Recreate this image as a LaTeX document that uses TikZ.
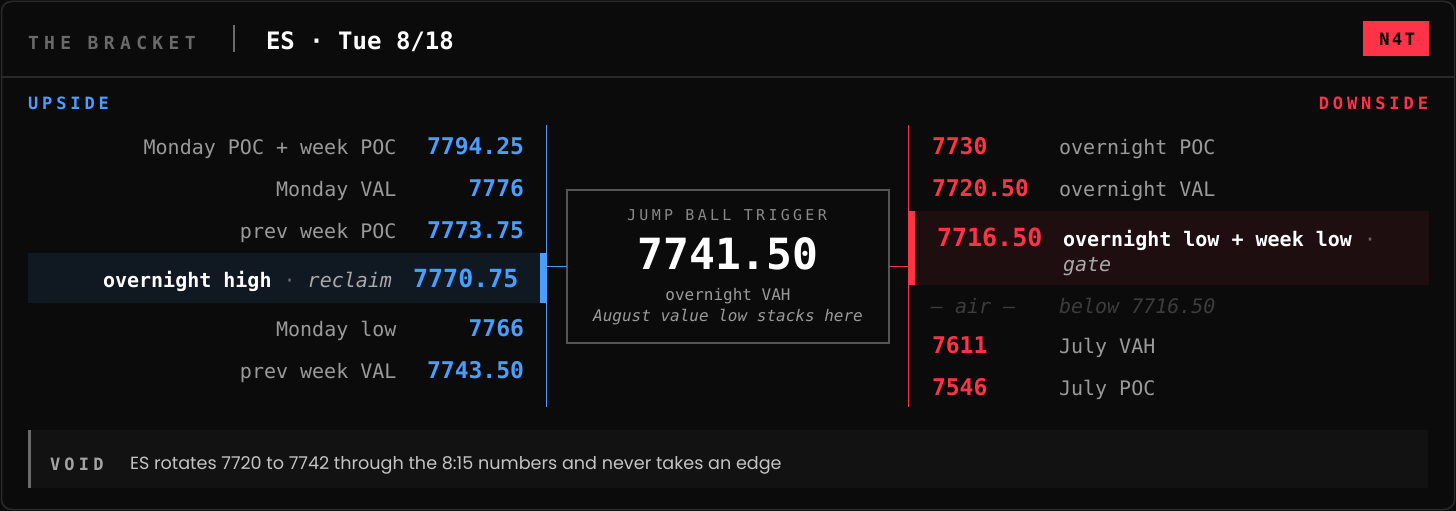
\documentclass[tikz,border=0pt]{standalone}
\usepackage{fontspec}
\setmainfont{DejaVu Sans Mono}
\newfontfamily\pop{Poppins}
\newfontfamily\trkA[LetterSpace=30]{DejaVu Sans Mono}
\newfontfamily\trkB[LetterSpace=23]{DejaVu Sans Mono}
\newfontfamily\trkC[LetterSpace=22]{DejaVu Sans Mono}
\newfontfamily\trkD[LetterSpace=15]{DejaVu Sans Mono}
\newfontfamily\trkE[LetterSpace=25]{DejaVu Sans Mono}
\definecolor{bgc}{HTML}{0B0B0B}
\definecolor{edgec}{HTML}{2A2A2A}
\definecolor{upc}{HTML}{4A9EFF}
\definecolor{dnc}{HTML}{FF3347}
\definecolor{lblc}{HTML}{9A9A9A}
\definecolor{dimc}{HTML}{6A6A6A}
\definecolor{midc}{HTML}{888888}
\definecolor{airc}{HTML}{3C3C3C}
\definecolor{uphl}{HTML}{101822}
\definecolor{dnhl}{HTML}{1F0E10}
\definecolor{boxc}{HTML}{555555}
\definecolor{footc}{HTML}{121212}
\definecolor{foottxt}{HTML}{C4C4C4}
\newcommand{\fs}[1]{\fontsize{#1}{#1}\selectfont}
\tikzset{
  lbl/.style={text=lblc, font=\fs{20}},
  upval/.style={text=upc, font=\fs{23}\bfseries},
  dnval/.style={text=dnc, font=\fs{23}\bfseries},
  upline/.style={draw=upc, line width=1.6pt},
  dnline/.style={draw=dnc, line width=1.6pt},
}
\begin{document}
\begin{tikzpicture}[x=1pt,y=-1pt, every node/.style={inner sep=0pt, outer sep=0pt}]
\useasboundingbox (0,0) rectangle (1456,511);
\fill[bgc] (0,0) rectangle (1456,511);
\draw[edgec, line width=1.5pt, rounded corners=10pt] (1.5,1.5) rectangle (1454.5,509.5);
% header
\coordinate (hl) at (1.5,77);
\coordinate (hr) at (1454.5,77);
\draw[edgec, line width=1.5pt] (hl) -- (hr);
\node[anchor=base west, text=dimc, font=\trkA\fs{18}\bfseries] (brk) at (28,49.3) {THE BRACKET};
\coordinate (sept) at (234,25);
\coordinate (sepb) at (234,52);
\draw[dimc, line width=2pt] (sept) -- (sepb);
\node[anchor=base west, text=white, font=\fs{24}\bfseries] (ttl) at (266,49.3) {ES · Tue 8/18};
\node[fill=dnc, minimum width=66pt, minimum height=35pt] (badge) at (1396,38.5) {};
\node[anchor=base, text=black, font=\trkD\fs{17}\bfseries] (badget) at ([xshift=1.3pt]badge.center |- 0,45.5) {N4T};
\node[anchor=base west, text=upc, font=\trkB\fs{17}\bfseries] (ups) at (28,109.3) {UPSIDE};
\node[anchor=base east, text=dnc, font=\trkB\fs{17}\bfseries] (dns) at (1428,109.3) {DOWNSIDE};
% highlights
\fill[uphl] (27.5,253) rectangle (540,303);
\fill[upc] (540,253) rectangle (547.3,303);
\fill[dnhl] (908,211) rectangle (1428.5,285);
\fill[dnc] (908,211) rectangle (915,285);
% lines
\coordinate (uptop) at (546.5,125);
\coordinate (upbot) at (546.5,407);
\coordinate (dntop) at (908.5,125);
\coordinate (dnbot) at (908.5,407);
\draw[upline] (uptop) -- (upbot);
\draw[dnline] (dntop) -- (dnbot);
\node[draw=boxc, line width=1.5pt, fill=bgc, minimum width=322pt, minimum height=153pt] (trigger) at (728,266.5) {};
\draw[upline] (trigger.west -| uptop) -- (trigger.west);
\draw[dnline] (trigger.east) -- (trigger.east -| dntop);
% center texts
\node[anchor=base, text=midc, font=\trkC\fs{15}] (jbt) at (727,220.7) {JUMP BALL TRIGGER};
\node[anchor=base, text=white, font=\fs{43}\bfseries] (jbv) at (728,269) {7741.50};
\node[anchor=base, text=lblc, font=\fs{16}] (jbl) at (728,300) {overnight VAH};
\node[anchor=base, text=lblc, font=\fs{16}\itshape] (jbn) at (728,321.7) {August value low stacks here};
% left rows
\node[lbl, anchor=base east] (l1) at (396.5,154) {Monday POC + week POC};
\node[upval, anchor=base east] (v1) at (524,154) {7794.25};
\node[lbl, anchor=base east] (l2) at (396.5,196.5) {Monday VAL};
\node[upval, anchor=base east] (v2) at (524,196.5) {7776};
\node[lbl, anchor=base east] (l3) at (396.5,238) {prev week POC};
\node[upval, anchor=base east] (v3) at (524,238) {7773.75};
\node[anchor=base east, font=\fs{20}] (l4) at (392,287) {\textcolor{white}{\bfseries overnight high}\textcolor{dimc}{\ ·\ }\textcolor{lblc!85}{\itshape reclaim}};
\node[anchor=base east, text=upc, font=\fs{25}\bfseries] (v4) at (518.5,287) {7770.75};
\node[lbl, anchor=base east] (l5) at (396.5,336.5) {Monday low};
\node[upval, anchor=base east] (v5) at (524,336.5) {7766};
\node[lbl, anchor=base east] (l6) at (396.5,378) {prev week VAL};
\node[upval, anchor=base east] (v6) at (524,378) {7743.50};
% right rows
\node[dnval, anchor=base west] (r1) at (932,154) {7730};
\node[lbl, anchor=base west] (rl1) at (1059,154) {overnight POC};
\node[dnval, anchor=base west] (r2) at (932,196.5) {7720.50};
\node[lbl, anchor=base west] (rl2) at (1059,196.5) {overnight VAL};
\node[anchor=base west, text=dnc, font=\fs{25}\bfseries] (r3) at (937,246) {7716.50};
\node[anchor=base west, font=\fs{20}] (rl3) at (1063,246) {\textcolor{white}{\bfseries overnight low + week low}\textcolor{dimc}{\ ·}};
\node[anchor=base west, text=lblc!85, font=\fs{20}\itshape] (rl3b) at (1063,271.7) {gate};
\node[anchor=base west, text=airc, font=\fs{20}\itshape] (air) at (931,313) {— air —};
\node[anchor=base west, text=airc, font=\fs{20}\itshape] (airl) at (1059,313) {below 7716.50};
\node[dnval, anchor=base west] (r4) at (932,353.3) {7611};
\node[lbl, anchor=base west] (rl4) at (1059,353.3) {July VAH};
\node[dnval, anchor=base west] (r5) at (932,395) {7546};
\node[lbl, anchor=base west] (rl5) at (1059,395) {July POC};
% footer
\fill[footc] (28,430) rectangle (1428,488);
\fill[dimc] (28,430) rectangle (31,488);
\node[anchor=base west, text=lblc!90, font=\trkE\fs{17}\bfseries] (void) at (50,470) {VOID};
\node[anchor=base west, text=foottxt, font=\pop\fs{17.6}] (vtxt) at (130,469) {ES rotates 7720 to 7742 through the 8:15 numbers and never takes an edge};
\end{tikzpicture}
\end{document}
